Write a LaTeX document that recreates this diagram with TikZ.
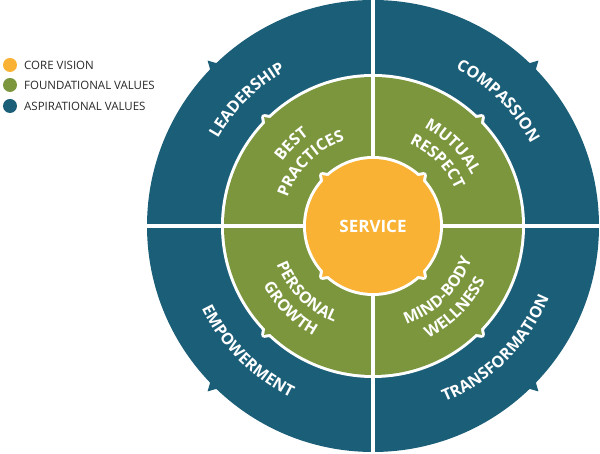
\documentclass[tikz,border=0pt]{standalone}
\usepackage{fontspec}
\setsansfont{Open Sans}
\newfontfamily\wheelfamily{Open Sans}
\usetikzlibrary{decorations.text}

\definecolor{aspblue}{RGB}{27,94,120}
\definecolor{foundgreen}{RGB}{124,150,61}
\definecolor{coreorange}{RGB}{249,178,52}
\definecolor{legendgray}{RGB}{40,40,40}

\newcommand\wheelfont{\wheelfamily\bfseries\fontsize{16}{16}\selectfont}
\newcommand\legendfont{\sffamily\fontsize{11.5}{11.5}\selectfont}

\tikzset{
  legdot/.style={circle, minimum size=14pt, inner sep=0pt},
  legtext/.style={anchor=west, font=\legendfont, text=legendgray, inner sep=0pt},
  ringtext/.style={decorate, decoration={text along path, text align=center,
    text color=white, text={|\wheelfont|#1}}},
  whiteedge/.style={draw=white, line width=6pt, line join=round},
}

\begin{document}
\begin{tikzpicture}[x=1pt,y=1pt]
\useasboundingbox (0,0) rectangle (600,454);
\coordinate (c) at (373,228);

% legend
\node[legdot, fill=coreorange] (dotcore) at (10,389) {};
\node[legdot, fill=foundgreen] (dotfound) at (10,369) {};
\node[legdot, fill=aspblue] (dotasp) at (10,348) {};
\node[legtext] (txtcore) at (24,389) {CORE VISION};
\node[legtext] (txtfound) at (24,369) {FOUNDATIONAL VALUES};
\node[legtext] (txtasp) at (24,348) {ASPIRATIONAL VALUES};

% aspirational ring
\fill[aspblue] (c) circle[radius=226];
\foreach \a in {45,135,225,315}
  \fill[aspblue, shift={(c)}, rotate=\a] (223,6) -- (234,0) -- (223,-6) -- cycle;

% foundational ring
\draw[whiteedge] (c) circle[radius=149];
\foreach \a in {45,135,225,315}
  \draw[whiteedge, shift={(c)}, rotate=\a] (147,5) -- (154,0) -- (147,-5) -- cycle;
\fill[foundgreen] (c) circle[radius=149];
\foreach \a in {45,135,225,315}
  \fill[foundgreen, shift={(c)}, rotate=\a] (147,5) -- (154,0) -- (147,-5) -- cycle;

% dividing cross
\draw[white, line width=3.5pt] (373,2) -- (373,454);
\draw[white, line width=3.5pt] (147,228) -- (599,228);

% core vision
\draw[whiteedge] (c) circle[radius=67];
\foreach \a in {45,135,225,315}
  \draw[whiteedge, shift={(c)}, rotate=\a] (65,5) -- (72,0) -- (65,-5) -- cycle;
\fill[coreorange] (c) circle[radius=67];
\foreach \a in {45,135,225,315}
  \fill[coreorange, shift={(c)}, rotate=\a] (65,5) -- (72,0) -- (65,-5) -- cycle;
\node[font=\wheelfamily\bfseries\fontsize{17}{17}\selectfont, text=white] (service) at (c) {SERVICE};

% outer labels
\path[ringtext=LEADERSHIP] (c) ++(175:178) arc[start angle=175, end angle=95, radius=178];
\path[ringtext=COMPASSION] (c) ++(85:178) arc[start angle=85, end angle=5, radius=178];
\path[ringtext=EMPOWERMENT] (c) ++(180:190) arc[start angle=180, end angle=270, radius=190];
\path[ringtext=TRANSFORMATION] (c) ++(270:190) arc[start angle=270, end angle=360, radius=190];

% inner labels
\path[ringtext=BEST] (c) ++(180:111) arc[start angle=180, end angle=90, radius=111];
\path[ringtext=PRACTICES] (c) ++(180:90) arc[start angle=180, end angle=90, radius=90];
\path[ringtext=MUTUAL] (c) ++(90:111) arc[start angle=90, end angle=0, radius=111];
\path[ringtext=RESPECT] (c) ++(90:90) arc[start angle=90, end angle=0, radius=90];
\path[ringtext=PERSONAL] (c) ++(180:104) arc[start angle=180, end angle=270, radius=104];
\path[ringtext=GROWTH] (c) ++(180:125) arc[start angle=180, end angle=270, radius=125];
\path[ringtext=MIND-BODY] (c) ++(270:104) arc[start angle=270, end angle=360, radius=104];
\path[ringtext=WELLNESS] (c) ++(270:125) arc[start angle=270, end angle=360, radius=125];
\end{tikzpicture}
\end{document}
